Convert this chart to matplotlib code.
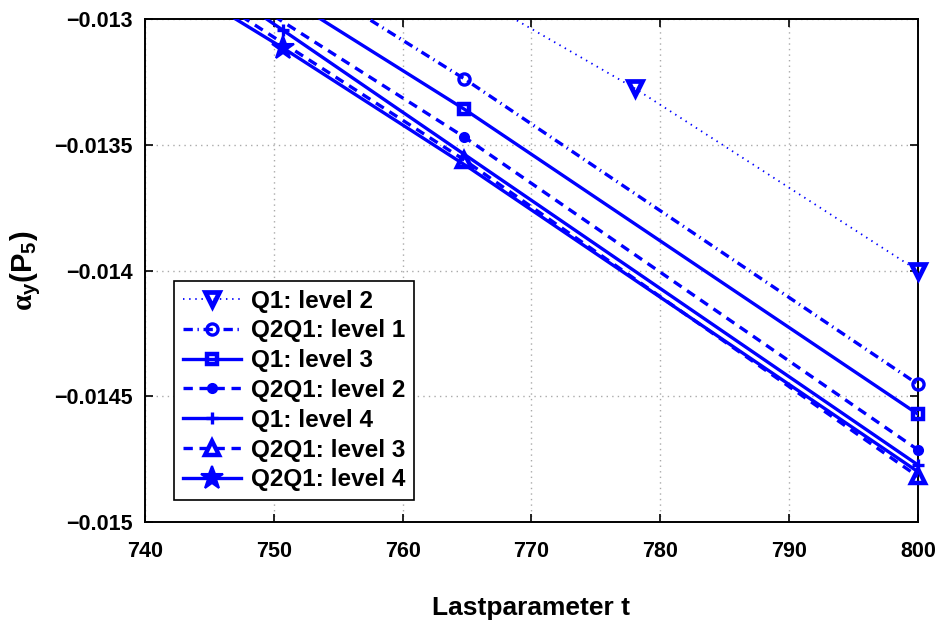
import numpy as np
import matplotlib
matplotlib.use("Agg")
import matplotlib.pyplot as plt
from matplotlib.lines import Line2D

# =====================================
# Data
# =====================================

labels = ["Q1: level 2", "Q2Q1: level 1", "Q1: level 3", "Q2Q1: level 2",
          "Q1: level 4", "Q2Q1: level 3", "Q2Q1: level 4"]

t_q1_l2 = [760.0, 778.0, 800.0]
v_q1_l2 = [-0.012743, -0.013274, -0.014000]

t_q2q1_l1 = [750.0, 764.8, 800.0]
v_q2q1_l1 = [-0.012763, -0.013237, -0.014452]

t_q1_l3 = [745.0, 764.8, 800.0]
v_q1_l3 = [-0.012721, -0.013358, -0.014571]

t_q2q1_l2 = [745.0, 764.8, 800.0]
v_q2q1_l2 = [-0.012824, -0.013469, -0.014713]

t_q1_l4 = [745.0, 750.7, 800.0]
v_q1_l4 = [-0.012843, -0.013043, -0.014773]

t_q2q1_l3 = [745.0, 764.8, 800.0]
v_q2q1_l3 = [-0.012906, -0.013560, -0.014819]

t_q2q1_l4 = [745.0, 750.74, 765.0, 800.0]
v_q2q1_l4 = [-0.012935, -0.013115, -0.013585, -0.014800]

# indices of points that carry a marker
marks_q1_l2 = [1, 2]
marks_q2q1_l1 = [1, 2]
marks_q1_l3 = [1, 2]
marks_q2q1_l2 = [1, 2]
marks_q1_l4 = [1, 2]
marks_q2q1_l3 = [1, 2]
marks_q2q1_l4 = [1]

xticks = [740, 750, 760, 770, 780, 790, 800]
yticks = [-0.015, -0.0145, -0.014, -0.0135, -0.013]
ytick_labels = ["\u22120.015", "\u22120.0145", "\u22120.014", "\u22120.0135", "\u22120.013"]

# =====================================
# Styles
# =====================================

blue = (0, 0, 1)
dash = (2.8, 2.0)
dashdot = (2.8, 1.4, 0.4, 1.4)
dots = (0.8, 2.6)

# data, marks, dashes, linewidth, marker, size, face, edge width
series = [
    (t_q1_l2, v_q1_l2, marks_q1_l2, dots, 1.3, "v", 10, "none", 3.4),
    (t_q2q1_l1, v_q2q1_l1, marks_q2q1_l1, dashdot, 2.4, "o", 8, "none", 2.4),
    (t_q1_l3, v_q1_l3, marks_q1_l3, None, 2.4, "s", 7, "none", 3.2),
    (t_q2q1_l2, v_q2q1_l2, marks_q2q1_l2, dash, 2.4, "o", 6.5, blue, 1.5),
    (t_q1_l4, v_q1_l4, marks_q1_l4, None, 2.4, "+", 9, "none", 2.4),
    (t_q2q1_l3, v_q2q1_l3, marks_q2q1_l3, dash, 2.4, "^", 10, "none", 3.2),
    (t_q2q1_l4, v_q2q1_l4, marks_q2q1_l4, None, 2.4, "*", 17, blue, 1.5),
]

plt.rcParams["font.family"] = ["Liberation Sans", "DejaVu Sans"]
plt.rcParams["font.weight"] = "bold"
plt.rcParams["mathtext.fontset"] = "custom"
plt.rcParams["mathtext.rm"] = "Liberation Serif"
plt.rcParams["mathtext.bf"] = "Liberation Sans:bold"
plt.rcParams["mathtext.it"] = "Liberation Serif:italic"

# =====================================
# Plot
# =====================================

fig = plt.figure(figsize=(9.41, 6.28), dpi=100)
ax = fig.add_axes([0.154, 0.1688, 0.8215, 0.8005])

handles = []
for (t, v, marks, ls, lw, mk, ms, mfc, mew), lab in zip(series, labels):
    line, = ax.plot(t, v, color=blue, linewidth=lw, zorder=3)
    if ls is not None:
        line.set_dashes(ls)
    ax.plot(t, v, linestyle="none", marker=mk, markersize=ms,
            markerfacecolor=mfc, markeredgecolor=blue, markeredgewidth=mew,
            markevery=marks, clip_on=False, zorder=4)
    h = Line2D([], [], color=blue, linewidth=lw, marker=mk, markersize=ms,
               markerfacecolor=mfc, markeredgecolor=blue, markeredgewidth=mew)
    if ls is not None:
        h.set_dashes(ls)
    handles.append(h)

ax.set_xlim(740, 800)
ax.set_ylim(-0.015, -0.013)
ax.set_xticks(xticks)
ax.set_xticklabels([str(x) for x in xticks])
ax.set_yticks(yticks)
ax.set_yticklabels(ytick_labels)

ax.tick_params(direction="in", length=6, width=1.2, top=True, right=True,
               labelsize=15.5, pad=9)
ax.tick_params(axis="x", pad=14)
for lab in ax.get_xticklabels() + ax.get_yticklabels():
    lab.set_fontweight("bold")
for sp in ax.spines.values():
    sp.set_linewidth(1.4)

ax.grid(True, color="#aaaaaa", linestyle=(0, (1, 3)), linewidth=1.0)
ax.set_axisbelow(True)

ax.set_xlabel("Lastparameter t", fontsize=19, fontweight="bold", labelpad=24)
ax.set_ylabel(r"$\mathrm{α}_{\mathbf{y}}\mathbf{(P_5)}$", fontsize=21)
ax.yaxis.set_label_coords(-0.132, 0.5)

leg = ax.legend(handles, labels, loc="lower left",
                bbox_to_anchor=(0.038, 0.044), borderaxespad=0,
                fancybox=False, framealpha=1, edgecolor="black",
                handlelength=2.4, fontsize=17.5, labelspacing=0.28,
                borderpad=0.35, handletextpad=0.4)
leg.get_frame().set_linewidth(1.2)
for txt in leg.get_texts():
    txt.set_fontweight("bold")

plt.savefig("out.png", dpi=100)
